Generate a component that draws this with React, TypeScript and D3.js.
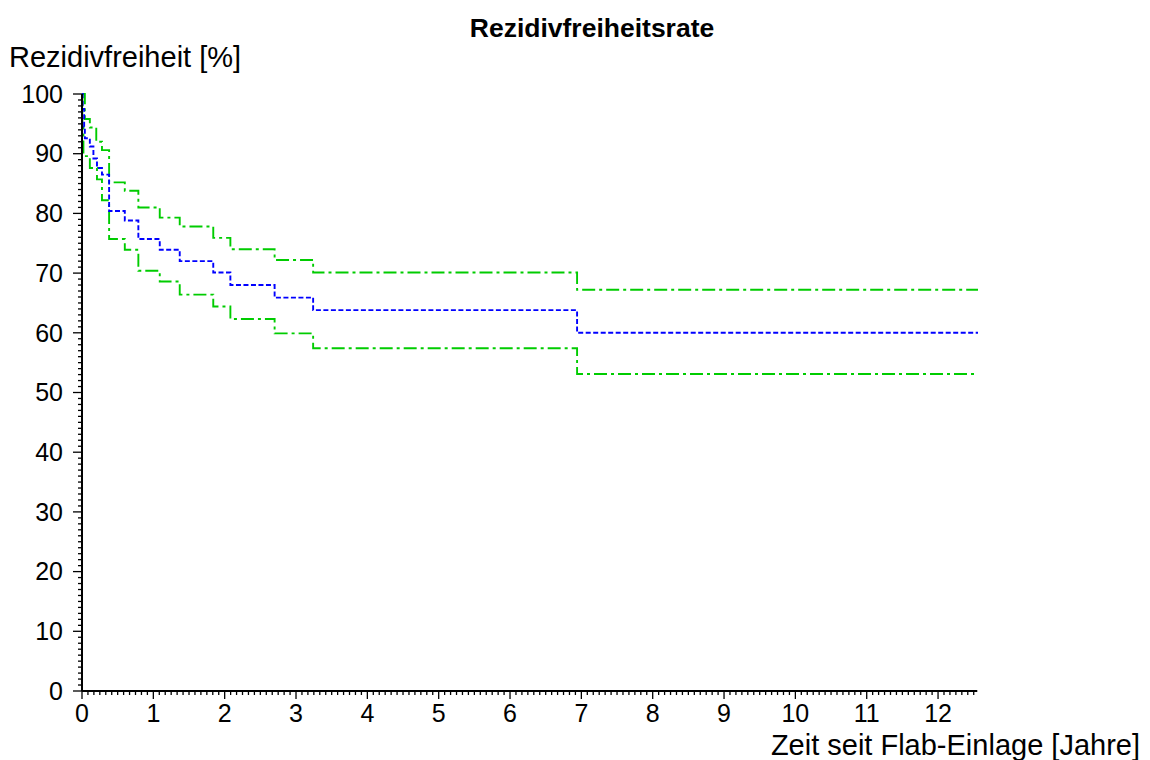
import React from "react";
import * as d3 from "d3";

const title = "Rezidivfreiheitsrate";
const yLabel = "Rezidivfreiheit [%]";
const xLabel = "Zeit seit Flab-Einlage [Jahre]";

const xTicks = [0, 1, 2, 3, 4, 5, 6, 7, 8, 9, 10, 11, 12];
const yTicks = [0, 10, 20, 30, 40, 50, 60, 70, 80, 90, 100];
const endTime = 12.56;

const estTimes = [0, 0.01, 0.03, 0.04, 0.11, 0.16, 0.21, 0.28, 0.38, 0.6, 0.79, 1.09, 1.37, 1.84, 2.08, 2.7, 3.24, 6.94];
const estSurv = [100, 97.5, 94.5, 92.6, 91.2, 89.2, 87.6, 86.5, 80.4, 78.8, 75.7, 73.9, 72.0, 70.1, 68.0, 65.9, 63.8, 60.0];

const upperTimes = [0, 0.04, 0.11, 0.2, 0.28, 0.38, 0.6, 0.79, 1.09, 1.37, 1.84, 2.08, 2.7, 3.24, 6.94];
const upperSurv = [100, 95.8, 94.4, 92.0, 90.6, 85.2, 83.8, 81.0, 79.3, 77.8, 75.9, 74.0, 72.2, 70.1, 67.2];

const lowerTimes = [0, 0.005, 0.02, 0.11, 0.21, 0.28, 0.38, 0.6, 0.79, 1.09, 1.37, 1.84, 2.08, 2.7, 3.24, 6.94];
const lowerSurv = [100, 94.5, 89.6, 87.6, 85.7, 82.2, 75.7, 73.9, 70.4, 68.6, 66.4, 64.4, 62.3, 59.9, 57.4, 53.1];

const FONT = "'Liberation Sans', Arial, Helvetica, sans-serif";

export default function App() {
  const x = d3.scaleLinear().domain([0, endTime]).range([82, 978]);
  const y = d3.scaleLinear().domain([0, 100]).range([691, 94]);

  const line = d3
    .line<[number, number]>()
    .x((d) => x(d[0]))
    .y((d) => y(d[1]))
    .curve(d3.curveStepAfter);

  const mk = (t: number[], s: number[]) => {
    const pts: [number, number][] = t.map((tt, i) => [tt, s[i]]);
    pts.push([endTime, s[s.length - 1]]);
    return line(pts) || "";
  };

  const xMinor = d3.range(0, Math.floor(endTime * 12) + 1).map((m) => m / 12);
  const yMinor = d3.range(0, 101);

  const axisEnd = x(12.55);

  return (
    <div style={{ position: "absolute", left: 0, top: 0 }}>
      <svg width={1150} height={760} style={{ display: "block", background: "#fff" }} fontFamily={FONT}>
        <text x={592} y={37} textAnchor="middle" fontSize={26.5} fontWeight="bold" fill="#000">
          {title}
        </text>
        <text x={9} y={67} fontSize={29} fill="#000">
          {yLabel}
        </text>
        <text x={1140} y={755} textAnchor="end" fontSize={29} fill="#000">
          {xLabel}
        </text>

        {/* curves */}
        <path d={mk(upperTimes, upperSurv)} fill="none" stroke="#00cc00" strokeWidth={1.9} strokeDasharray="13,4,3,4" />
        <path d={mk(lowerTimes, lowerSurv)} fill="none" stroke="#00cc00" strokeWidth={1.9} strokeDasharray="13,4,3,4" />
        <path d={mk(estTimes, estSurv)} fill="none" stroke="#0000ff" strokeWidth={1.9} strokeDasharray="5,2.5" />

        {/* y axis */}
        <line x1={x(0)} x2={x(0)} y1={y(100)} y2={y(0)} stroke="#000" strokeWidth={2} />
        {yMinor.map((v) => (
          <line key={"ym" + v} x1={x(0) - (v % 10 === 0 ? 9 : 4)} x2={x(0)} y1={y(v)} y2={y(v)} stroke="#000" strokeWidth={1.3} />
        ))}
        {yTicks.map((v) => (
          <text key={"yt" + v} x={63} y={y(v)} dy="0.35em" textAnchor="end" fontSize={25} fill="#000">
            {v}
          </text>
        ))}

        {/* x axis */}
        <line x1={x(0)} x2={axisEnd} y1={y(0)} y2={y(0)} stroke="#000" strokeWidth={2} />
        {xMinor.map((t, i) => (
          <line key={"xm" + i} x1={x(t)} x2={x(t)} y1={y(0)} y2={y(0) + (i % 12 === 0 ? 8 : 4)} stroke="#000" strokeWidth={1.3} />
        ))}
        {xTicks.map((t) => (
          <text key={"xt" + t} x={x(t)} y={722} textAnchor="middle" fontSize={25} fill="#000">
            {t}
          </text>
        ))}
      </svg>
    </div>
  );
}
